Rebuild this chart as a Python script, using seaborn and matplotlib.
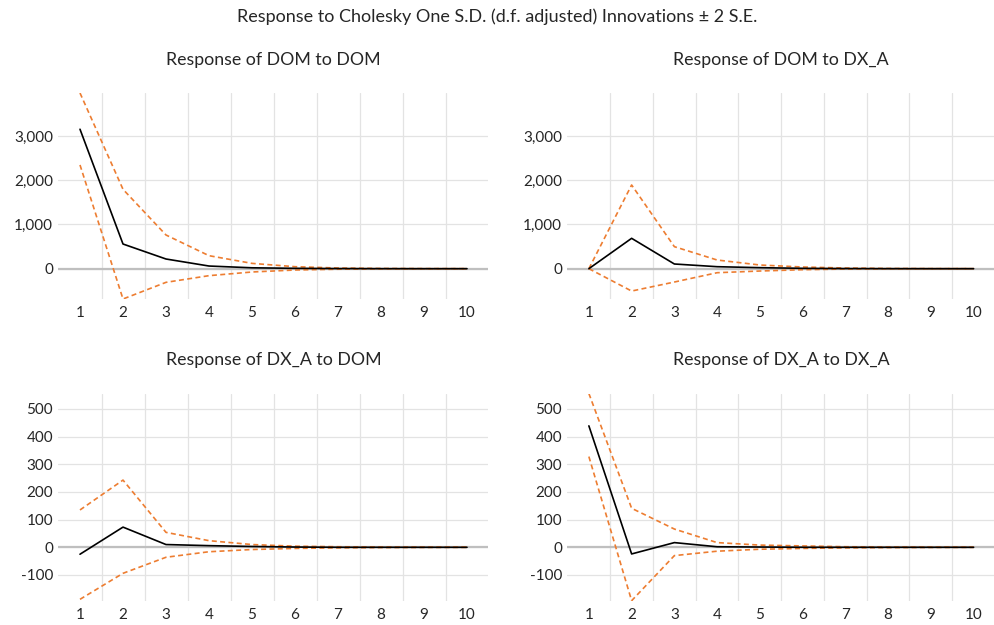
import numpy as np
import pandas as pd
import matplotlib
matplotlib.use("Agg")
import matplotlib.pyplot as plt
from matplotlib.ticker import FuncFormatter, FixedLocator
import seaborn as sns

periods = list(range(1, 11))

# Response of DOM to DOM
dom_dom_resp = [3155, 558, 219, 60, 20, 8, 3, 1, 0, 0]
dom_dom_up = [3975, 1796, 762, 294, 120, 45, 15, 5, 2, 1]
dom_dom_lo = [2347, -686, -309, -158, -75, -30, -12, -4, -2, -1]

# Response of DOM to DX_A
dom_dxa_resp = [0, 687, 106, 45, 23, 8, 3, 1, 0, 0]
dom_dxa_up = [0, 1894, 498, 196, 83, 38, 15, 5, 2, 1]
dom_dxa_lo = [0, -506, -302, -91, -53, -23, -8, -3, -1, 0]

# Response of DX_A to DOM
dxa_dom_resp = [-25, 73, 10, 6, 3, 1, 0, 0, 0, 0]
dxa_dom_up = [135, 243, 54, 24, 10, 4, 2, 1, 0.5, 0.2]
dxa_dom_lo = [-188, -94, -36, -16, -8, -4, -2, -1, -0.5, 0]

# Response of DX_A to DX_A
dxa_dxa_resp = [439, -24, 17, 2, 1, 0, 0, 0, 0, 0]
dxa_dxa_up = [556, 141, 66, 17, 8, 5, 2, 1, 0.5, 0.2]
dxa_dxa_lo = [328, -193, -30, -14, -7, -4, -2, -1, -0.5, 0]

titles = ["Response of DOM to DOM", "Response of DOM to DX_A",
          "Response of DX_A to DOM", "Response of DX_A to DX_A"]
suptitle = "Response to Cholesky One S.D. (d.f. adjusted) Innovations \u00b1 2 S.E."
top_ticks = [0, 1000, 2000, 3000]
bottom_ticks = [-100, 0, 100, 200, 300, 400, 500]

panels = [
    (dom_dom_resp, dom_dom_up, dom_dom_lo),
    (dom_dxa_resp, dom_dxa_up, dom_dxa_lo),
    (dxa_dom_resp, dxa_dom_up, dxa_dom_lo),
    (dxa_dxa_resp, dxa_dxa_up, dxa_dxa_lo),
]

sns.set_theme(style="white")
plt.rcParams['font.family'] = ['Lato', 'DejaVu Sans']

W, H = 995, 625
fig = plt.figure(figsize=(W / 100, H / 100), dpi=100)

# axes rectangles in pixel coords: (left, right, top, bottom)
rects = [
    (58.5, 488.5, 93, 299),
    (567.5, 995, 93, 299),
    (58.5, 488.5, 393.5, 600.7),
    (567.5, 995, 393.5, 600.7),
]
title_baselines = [65, 65, 365, 365]

orange = "#ed7d31"
text_col = "#262626"
fmt = FuncFormatter(lambda v, p: f"{int(round(v)):,}")

row_lims = []
for r in range(2):
    vals = []
    for p in panels[2 * r:2 * r + 2]:
        for s in p:
            vals.extend(s)
    row_lims.append((min(vals), max(vals)))

for i, (rect, (resp, up, lo)) in enumerate(zip(rects, panels)):
    l, rgt, t, b = rect
    ax = fig.add_axes([l / W, 1 - b / H, (rgt - l) / W, (b - t) / H])
    df = pd.DataFrame({"period": periods, "resp": resp, "up": up, "lo": lo})
    sns.lineplot(data=df, x="period", y="up", ax=ax, color=orange, lw=1.2,
                 linestyle=(0, (3, 2)), zorder=4)
    sns.lineplot(data=df, x="period", y="lo", ax=ax, color=orange, lw=1.2,
                 linestyle=(0, (3, 2)), zorder=4)
    sns.lineplot(data=df, x="period", y="resp", ax=ax, color="black", lw=1.2,
                 zorder=5)
    ax.axhline(0, color="#bfbfbf", lw=1.6, zorder=2)
    ax.set_xlim(0.5, 10.5)
    ax.set_ylim(*row_lims[i // 2])
    ax.set_xticks(periods)
    ax.xaxis.set_minor_locator(FixedLocator([k + 0.5 for k in range(1, 10)]))
    ax.set_yticks(top_ticks if i < 2 else bottom_ticks)
    ax.yaxis.set_major_formatter(fmt)
    ax.grid(False)
    ax.grid(which="minor", axis="x", color="#e3e3e3", lw=0.9, zorder=1)
    ax.grid(which="major", axis="y", color="#e3e3e3", lw=0.9, zorder=1)
    ax.set_axisbelow(True)
    for sp in ax.spines.values():
        sp.set_visible(False)
    ax.tick_params(axis="both", which="both", length=0, labelsize=11,
                   colors=text_col)
    ax.tick_params(axis="x", pad=5)
    ax.tick_params(axis="y", pad=4)
    ax.set_xlabel("")
    ax.set_ylabel("")
    fig.text(((l + rgt) / 2) / W, 1 - title_baselines[i] / H, titles[i],
             ha="center", va="baseline", fontsize=12.8, color=text_col)

fig.text(0.5, 1 - 22.3 / H, suptitle, ha="center", va="baseline",
         fontsize=13, color=text_col)

fig.savefig("out.png", dpi=100)
